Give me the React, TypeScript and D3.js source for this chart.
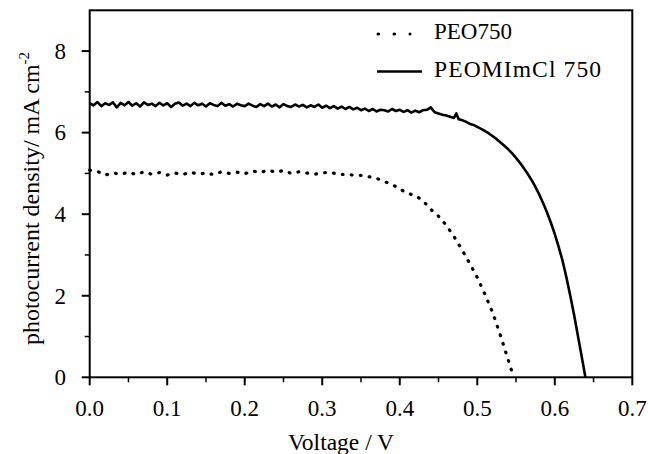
import React from "react";
import * as d3 from "d3";

const xTicksMajor = [0, 0.1, 0.2, 0.3, 0.4, 0.5, 0.6, 0.7];
const xTicksMinor = [0.05, 0.15, 0.25, 0.35, 0.45, 0.55, 0.65];
const yTicksMajor = [0, 2, 4, 6, 8];
const yTicksMinor = [1, 3, 5, 7];

const seriesNames = ["PEO750", "PEOMImCl 750"];

// PEO750 (dotted)
const peoV = [
  0.0, 0.01, 0.02, 0.03, 0.04, 0.05, 0.06, 0.07, 0.08, 0.09, 0.1, 0.11, 0.12, 0.13, 0.14, 0.15,
  0.16, 0.17, 0.18, 0.19, 0.2, 0.21, 0.22, 0.23, 0.24, 0.25, 0.26, 0.27, 0.28, 0.29, 0.3, 0.31,
  0.32, 0.33, 0.34, 0.35, 0.36, 0.37, 0.38, 0.39, 0.4, 0.41, 0.42, 0.43, 0.44, 0.45, 0.46, 0.47,
  0.48, 0.49, 0.5, 0.51, 0.52, 0.53, 0.54, 0.547,
];
const peoJ = [
  5.08, 5.05, 4.96, 5.01, 4.98, 5.03, 4.97, 5.04, 4.98, 5.02, 4.96, 5.01, 4.97, 5.03, 4.98, 5.01,
  4.97, 5.04, 5.0, 5.03, 4.99, 5.06, 5.02, 5.08, 5.03, 5.07, 5.0, 5.04, 5.01, 4.98, 5.01, 5.03,
  4.98, 4.97, 4.96, 4.95, 4.92, 4.88, 4.8, 4.73, 4.62, 4.51, 4.46, 4.33, 4.12, 3.95, 3.73, 3.45,
  3.14, 2.8, 2.45, 2.03, 1.58, 1.02, 0.42, 0.0,
];

// PEOMImCl 750 (solid)
const imV = [
  0.0, 0.005, 0.01, 0.015, 0.02, 0.025, 0.03, 0.035, 0.04, 0.045, 0.05, 0.055, 0.06, 0.065, 0.07, 0.075,
  0.08, 0.085, 0.09, 0.095, 0.1, 0.105, 0.11, 0.115, 0.12, 0.125, 0.13, 0.135, 0.14, 0.145, 0.15, 0.155,
  0.16, 0.165, 0.17, 0.175, 0.18, 0.185, 0.19, 0.195, 0.2, 0.205, 0.21, 0.215, 0.22, 0.225, 0.23, 0.235,
  0.24, 0.245, 0.25, 0.255, 0.26, 0.265, 0.27, 0.275, 0.28, 0.285, 0.29, 0.295, 0.3, 0.305, 0.31, 0.315,
  0.32, 0.325, 0.33, 0.335, 0.34, 0.345, 0.35, 0.355, 0.36, 0.365, 0.37, 0.375, 0.38, 0.385, 0.39, 0.395,
  0.4, 0.405, 0.41, 0.415, 0.42, 0.425, 0.43, 0.435, 0.44, 0.445, 0.45, 0.455, 0.46, 0.465, 0.47, 0.473,
  0.476, 0.48, 0.485, 0.49, 0.495, 0.5, 0.505, 0.51, 0.515, 0.52, 0.525, 0.53, 0.535, 0.54, 0.545, 0.55,
  0.555, 0.56, 0.565, 0.57, 0.575, 0.58, 0.585, 0.59, 0.595, 0.6, 0.605, 0.61, 0.615, 0.62, 0.625, 0.63,
  0.635, 0.6395,
];
const imJ = [
  6.72, 6.67, 6.75, 6.65, 6.72, 6.68, 6.74, 6.62, 6.73, 6.67, 6.75, 6.66, 6.72, 6.64, 6.74, 6.68,
  6.71, 6.65, 6.73, 6.67, 6.72, 6.63, 6.71, 6.74, 6.66, 6.71, 6.65, 6.73, 6.67, 6.71, 6.64, 6.72,
  6.68, 6.65, 6.73, 6.66, 6.7, 6.64, 6.71, 6.67, 6.65, 6.71, 6.66, 6.63, 6.7, 6.65, 6.71, 6.64,
  6.69, 6.62, 6.7, 6.65, 6.63, 6.69, 6.64, 6.68, 6.62, 6.67, 6.63, 6.69, 6.61, 6.66, 6.6, 6.65,
  6.59, 6.64, 6.58, 6.63, 6.57, 6.61, 6.55, 6.59, 6.53, 6.58, 6.52, 6.56, 6.55, 6.52, 6.58, 6.53,
  6.56, 6.51, 6.55, 6.49, 6.54, 6.5, 6.55, 6.56, 6.62, 6.5, 6.47, 6.44, 6.42, 6.39, 6.36, 6.47,
  6.33, 6.31, 6.27, 6.22, 6.19, 6.14, 6.09, 6.04, 5.98, 5.91, 5.84, 5.76, 5.68, 5.59, 5.49, 5.38,
  5.26, 5.13, 4.99, 4.84, 4.67, 4.48, 4.27, 4.04, 3.79, 3.51, 3.2, 2.86, 2.45, 2.0, 1.52, 1.0,
  0.48, 0.0,
];

const W = 648;
const H = 454;
const left = 89.7;
const right = 632.3;
const top = 10.3;
const bottom = 377.3;
const ts = { fontFamily: "Liberation Serif" };

export default function App() {
  const x = d3.scaleLinear().domain([0, 0.7]).range([left, right]);
  const y = d3.scaleLinear().domain([0, 9]).range([bottom, top]);

  const line = d3
    .line<[number, number]>()
    .x((d) => x(d[0]))
    .y((d) => y(d[1]));

  const peoPts: [number, number][] = peoV.map((v, i) => [v, peoJ[i]]);
  const imPts: [number, number][] = imV.map((v, i) => [v, imJ[i]]);

  return (
    <svg width={W} height={H} style={{ position: "absolute", left: 0, top: 0, background: "#fff" }}>
      <rect x={0} y={0} width={W} height={H} fill="#fff" />
      <rect
        x={left}
        y={top}
        width={right - left}
        height={bottom - top}
        fill="none"
        stroke="#000"
        strokeWidth={2}
      />
      {xTicksMajor.map((t) => (
        <line key={"xM" + t} x1={x(t)} x2={x(t)} y1={bottom} y2={bottom + 8} stroke="#000" strokeWidth={2} />
      ))}
      {xTicksMinor.map((t) => (
        <line key={"xm" + t} x1={x(t)} x2={x(t)} y1={bottom} y2={bottom + 5} stroke="#000" strokeWidth={1.5} />
      ))}
      {yTicksMajor.map((t) => (
        <line key={"yM" + t} x1={left - 8} x2={left} y1={y(t)} y2={y(t)} stroke="#000" strokeWidth={2} />
      ))}
      {yTicksMinor.map((t) => (
        <line key={"ym" + t} x1={left - 5} x2={left} y1={y(t)} y2={y(t)} stroke="#000" strokeWidth={1.5} />
      ))}
      <g style={ts} fill="#000">
        {xTicksMajor.map((t) => (
          <text key={"xl" + t} x={x(t)} y={415.5} fontSize={23} textAnchor="middle">
            {d3.format(".1f")(t)}
          </text>
        ))}
        {yTicksMajor.map((t) => (
          <text key={"yl" + t} x={66} y={y(t) + 7.8} fontSize={23} textAnchor="end">
            {t}
          </text>
        ))}
        <text x={341} y={450} fontSize={23.5} textAnchor="middle">
          Voltage / V
        </text>
        <text transform={`translate(39,198.5) rotate(-90)`} fontSize={24} textAnchor="middle">
          photocurrent density/ mA cm
          <tspan dy={-10} fontSize={15}>
            -2
          </tspan>
        </text>
        <text x={434} y={38.5} fontSize={23}>
          {seriesNames[0]}
        </text>
        <text x={434} y={77} fontSize={23.5} textLength={167} lengthAdjust="spacing">
          {seriesNames[1]}
        </text>
      </g>
      <path
        d={line(peoPts) || ""}
        fill="none"
        stroke="#000"
        strokeWidth={3.2}
        strokeLinecap="round"
        strokeDasharray="0.8 8.2"
      />
      <path d={line(imPts) || ""} fill="none" stroke="#000" strokeWidth={2.6} strokeLinejoin="round" />
      <line x1={378} x2={410} y1={34} y2={34} stroke="#000" strokeWidth={3} strokeLinecap="round" strokeDasharray="0.6 15.4" />
      <line x1={377} x2={422} y1={71.5} y2={71.5} stroke="#000" strokeWidth={2.4} />
    </svg>
  );
}
